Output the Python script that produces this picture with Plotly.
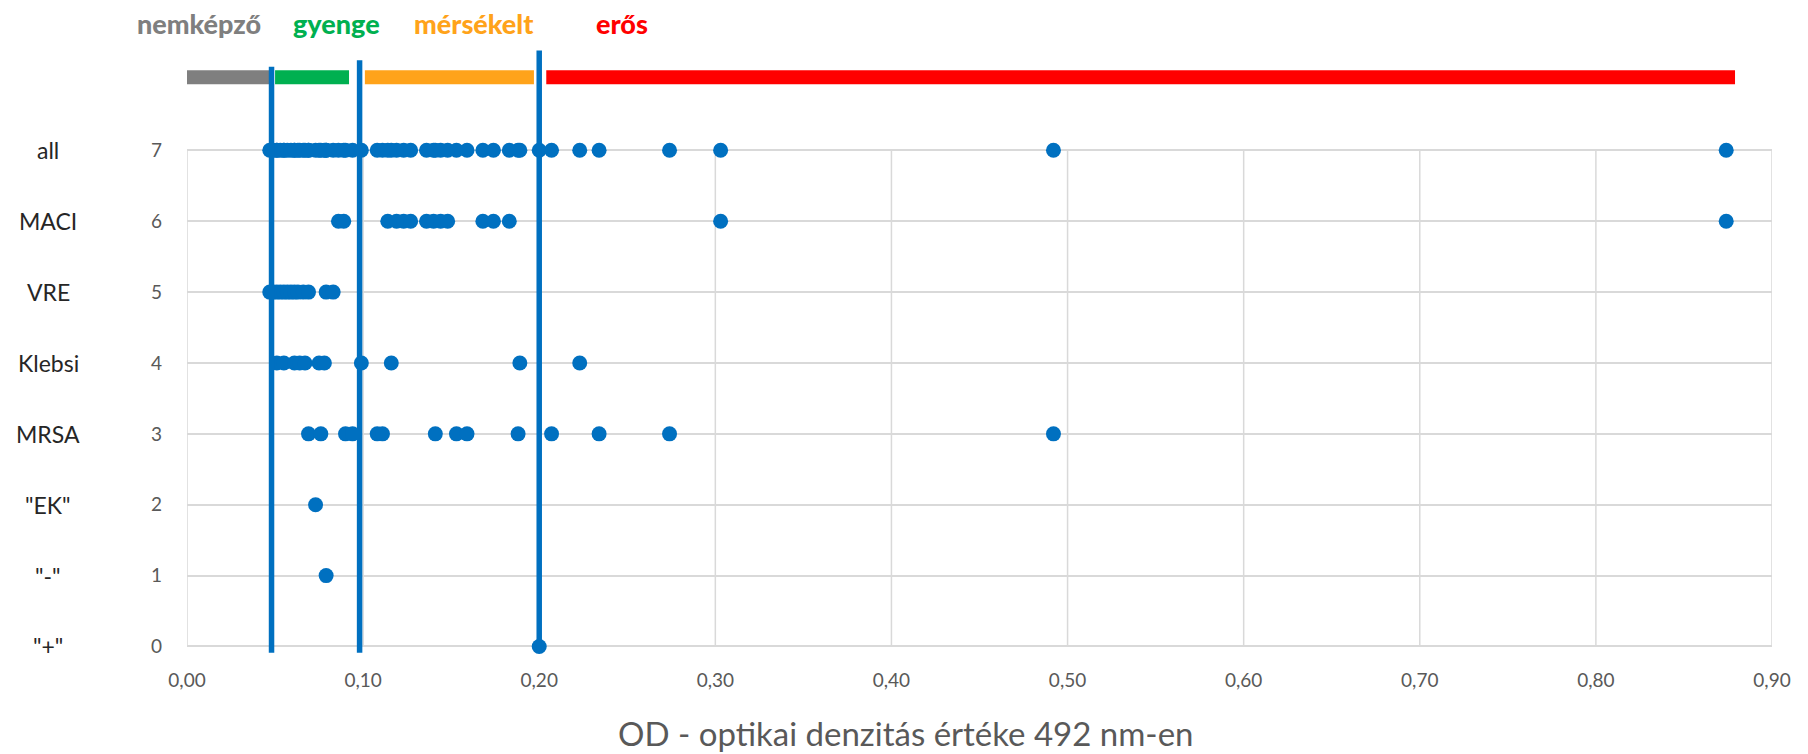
import plotly.graph_objects as go

# Row categories (bottom to top) and their row index on the y axis
categories = ['"+"', '"-"', '"EK"', "MRSA", "Klebsi", "VRE", "MACI", "all"]
row_index = [0, 1, 2, 3, 4, 5, 6, 7]

# OD values (492 nm) per isolate group
od_plus = [0.200]
od_minus = [0.079]
od_ek = [0.073]
od_mrsa = [0.069, 0.076, 0.090, 0.094, 0.108, 0.111, 0.141, 0.153, 0.159,
           0.188, 0.207, 0.234, 0.274, 0.492]
od_klebsi = [0.051, 0.055, 0.061, 0.064, 0.067, 0.075, 0.078, 0.099, 0.116,
             0.189, 0.223]
od_vre = [0.047, 0.049, 0.051, 0.053, 0.055, 0.057, 0.059, 0.061, 0.063,
          0.066, 0.069, 0.079, 0.083]
od_maci = [0.086, 0.089, 0.114, 0.119, 0.123, 0.127, 0.136, 0.140, 0.144,
           0.148, 0.168, 0.174, 0.183, 0.303, 0.874]
od_all = od_plus + od_minus + od_ek + od_mrsa + od_klebsi + od_vre + od_maci

series = [od_plus, od_minus, od_ek, od_mrsa, od_klebsi, od_vre, od_maci, od_all]

# Biofilm-forming cut-offs and the category bands above the plot
cutoffs = [0.048, 0.098, 0.200]
band_names = ["nemképző", "gyenge", "mérsékelt", "erős"]
band_start = [0.000, 0.050, 0.101, 0.204]
band_end = [0.048, 0.092, 0.197, 0.879]
band_label_x = [0.007, 0.0848, 0.163, 0.247]

x_ticks = [0.0, 0.1, 0.2, 0.3, 0.4, 0.5, 0.6, 0.7, 0.8, 0.9]

BLUE = "#0070C0"
band_colors = ["#7F7F7F", "#00B050", "#FFA31A", "#FF0000"]
cutoff_tops = [8.18, 8.27, 8.41]
cutoff_bottom = -0.09
band_y = 8.03
GRID = "#D9D9D9"

fig = go.Figure()

for row, vals in zip(row_index, series):
    fig.add_trace(go.Scatter(
        x=vals, y=[row] * len(vals), mode="markers",
        marker=dict(size=15, color=BLUE, line=dict(width=0)),
        cliponaxis=False, hoverinfo="x+y",
    ))

for s, e, c in zip(band_start, band_end, band_colors):
    fig.add_trace(go.Scatter(
        x=[s, e], y=[band_y, band_y], mode="lines",
        line=dict(color=c, width=14), hoverinfo="skip",
    ))

for c, top in zip(cutoffs, cutoff_tops):
    fig.add_trace(go.Scatter(
        x=[c, c], y=[cutoff_bottom, top], mode="lines",
        line=dict(color=BLUE, width=5.5), hoverinfo="skip",
    ))

# vertical gridlines only over the 0..7 rows
for xv in x_ticks:
    fig.add_shape(type="line", xref="x", yref="y", x0=xv, x1=xv,
                  y0=row_index[0], y1=row_index[-1], layer="below",
                  line=dict(color=GRID, width=1.5))

annotations = []
for name, xv, col in zip(band_names, band_label_x, band_colors):
    annotations.append(dict(
        text=name, x=xv, y=1.034, xref="x", yref="paper",
        xanchor="center", yanchor="middle", showarrow=False,
        font=dict(family="Lato", size=27, color=col, weight=900),
    ))

for name, row in zip(categories, row_index):
    annotations.append(dict(
        text=name, x=-0.0875, y=row, xref="paper", yref="y",
        xanchor="center", yanchor="middle", showarrow=False,
        font=dict(family="Lato", size=23, color="#262626"),
    ))

annotations.append(dict(
    text="OD - optikai denzitás értéke 492 nm-en",
    x=0.453, y=-0.127, xref="paper", yref="paper",
    xanchor="center", yanchor="middle", showarrow=False,
    font=dict(family="Lato", size=33, color="#595959"),
))

fig.update_layout(
    width=1808, height=754,
    margin=dict(l=186.7, r=36.3, t=43.6, b=98.8),
    paper_bgcolor="white", plot_bgcolor="white",
    showlegend=False,
    separators=",.",
    annotations=annotations,
    xaxis=dict(
        range=[0, 0.9], tickvals=x_ticks, tickformat=".2f",
        showgrid=False, zeroline=False, showline=False,
        ticks="", ticklabelstandoff=12,
        tickfont=dict(family="Lato", size=19, color="#595959"),
    ),
    yaxis=dict(
        range=[-0.12, 8.5], tickvals=row_index,
        showgrid=True, gridcolor=GRID, gridwidth=1.5,
        zeroline=False, showline=False, ticks="", ticklabelstandoff=24,
        tickfont=dict(family="Lato", size=19, color="#595959"),
    ),
)

fig.write_html("out.html")
